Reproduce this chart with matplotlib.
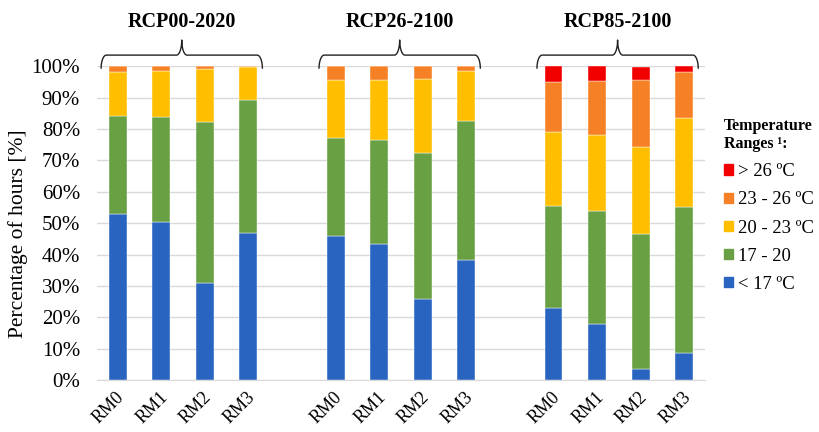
import numpy as np
import matplotlib
matplotlib.use("Agg")
import matplotlib.pyplot as plt
from matplotlib.patches import Patch
from matplotlib.transforms import ScaledTranslation

# data: share of hours per temperature range (%), bottom to top
SCENARIOS = ["RCP00-2020", "RCP26-2100", "RCP85-2100"]
MODELS = ["RM0", "RM1", "RM2", "RM3"]
RANGES = ["< 17 ºC", "17 - 20", "20 - 23 ºC", "23 - 26 ºC", "> 26 ºC"]
COLORS = ["#2864C0", "#68A043", "#FFBF00", "#F58025", "#F20000"]

below_17 = [53.0, 50.5, 31.0, 47.0,
            46.0, 43.5, 25.8, 38.3,
            23.0, 18.0, 3.5, 8.5]
r17_20 = [31.0, 33.2, 51.3, 42.3,
          31.0, 33.0, 46.4, 44.3,
          32.3, 36.0, 43.0, 46.5]
r20_23 = [14.2, 14.6, 16.7, 10.4,
          18.5, 19.2, 23.8, 15.9,
          23.6, 24.2, 27.8, 28.4]
r23_26 = [1.8, 1.7, 1.0, 0.3,
          4.5, 4.3, 4.0, 1.5,
          16.1, 16.9, 21.3, 14.8]
above_26 = [0.0, 0.0, 0.0, 0.0,
            0.0, 0.0, 0.0, 0.0,
            5.0, 4.9, 4.2, 1.8]

SERIES = [below_17, r17_20, r20_23, r23_26, above_26]

plt.rcParams.update({
    "font.family": ["Liberation Serif", "DejaVu Serif"],
    "font.size": 11,
})


def draw_brace(ax, x0, x1, y_end, y_bar, y_peak, lw=1.0):
    # curly brace built from four quarter arcs
    xc = (x0 + x1) / 2
    rx = 0.12
    t = np.linspace(0, np.pi / 2, 20)
    h1 = y_bar - y_end
    h2 = y_peak - y_bar
    xs, ys = [], []
    xs += list(x0 + rx * (1 - np.cos(t)))
    ys += list(y_end + h1 * np.sin(t))
    xs += list(xc - rx + rx * np.sin(t))
    ys += list(y_bar + h2 * (1 - np.cos(t)))
    xs += list(xc + rx - rx * np.sin(t[::-1]))
    ys += list(y_bar + h2 * (1 - np.cos(t[::-1])))
    xs += list(x1 - rx * (1 - np.cos(t[::-1])))
    ys += list(y_end + h1 * np.sin(t[::-1]))
    ax.plot(xs, ys, color="#222222", lw=lw, clip_on=False, solid_capstyle="round")


fig = plt.figure(figsize=(8.2, 4.32), dpi=100)
ax = fig.add_axes([0.118, 0.12, 0.742, 0.727])

positions = []
for g in range(len(SCENARIOS)):
    for m in range(len(MODELS)):
        positions.append(g * (len(MODELS) + 1) + m)
positions = np.array(positions)

bottom = np.zeros(len(positions))
for vals, color, label in zip(SERIES, COLORS, RANGES):
    ax.bar(positions, vals, width=0.41, bottom=bottom, color=color,
           edgecolor="white", linewidth=0.3, label=label, zorder=3)
    bottom += np.array(vals)

ax.set_ylim(0, 100)
ax.set_xlim(-0.48, positions[-1] + 0.48)
ax.set_yticks(np.arange(0, 101, 10))
ax.set_yticklabels([f"{v}%" for v in range(0, 101, 10)])
ax.set_xticks(positions)
ax.set_xticklabels(MODELS * len(SCENARIOS), rotation=45, ha="right",
                   rotation_mode="anchor")
ax.tick_params(axis="both", length=0)
ax.tick_params(axis="y", labelsize=15, pad=12)
ax.tick_params(axis="x", labelsize=13, pad=6)
shift = ScaledTranslation(-0.02, 0, fig.dpi_scale_trans)
for lab in ax.get_xticklabels():
    lab.set_transform(lab.get_transform() + shift)
ax.grid(axis="y", color="#D9D9D9", linewidth=1.0, zorder=0)
for side in ["top", "right", "left"]:
    ax.spines[side].set_visible(False)
ax.spines["bottom"].set_color("#D9D9D9")
ax.set_ylabel("Percentage of hours [%]", fontsize=15.5)
ax.yaxis.set_label_coords(-0.113, 0.465)

for g, name in enumerate(SCENARIOS):
    first = positions[g * len(MODELS)]
    last = positions[g * len(MODELS) + len(MODELS) - 1]
    draw_brace(ax, first - 0.38, last + 0.32, 99.3, 103.5, 108.3)
    ax.text((first + last) / 2 - 0.03, 114.0, name, ha="center", va="center",
            fontsize=14.5, fontweight="bold")

handles = [Patch(color=c) for c in COLORS[::-1]]
leg = fig.legend(handles, RANGES[::-1], loc="upper left",
                 bbox_to_anchor=(0.874, 0.745), frameon=False,
                 title="Temperature\nRanges \u00b9:", alignment="left",
                 handlelength=0.47, handleheight=0.47, handletextpad=0.25,
                 labelspacing=0.6, fontsize=13.4, borderaxespad=0)
leg.get_title().set_fontweight("bold")
leg.get_title().set_fontsize(11.5)

fig.savefig("out.png", dpi=100)
